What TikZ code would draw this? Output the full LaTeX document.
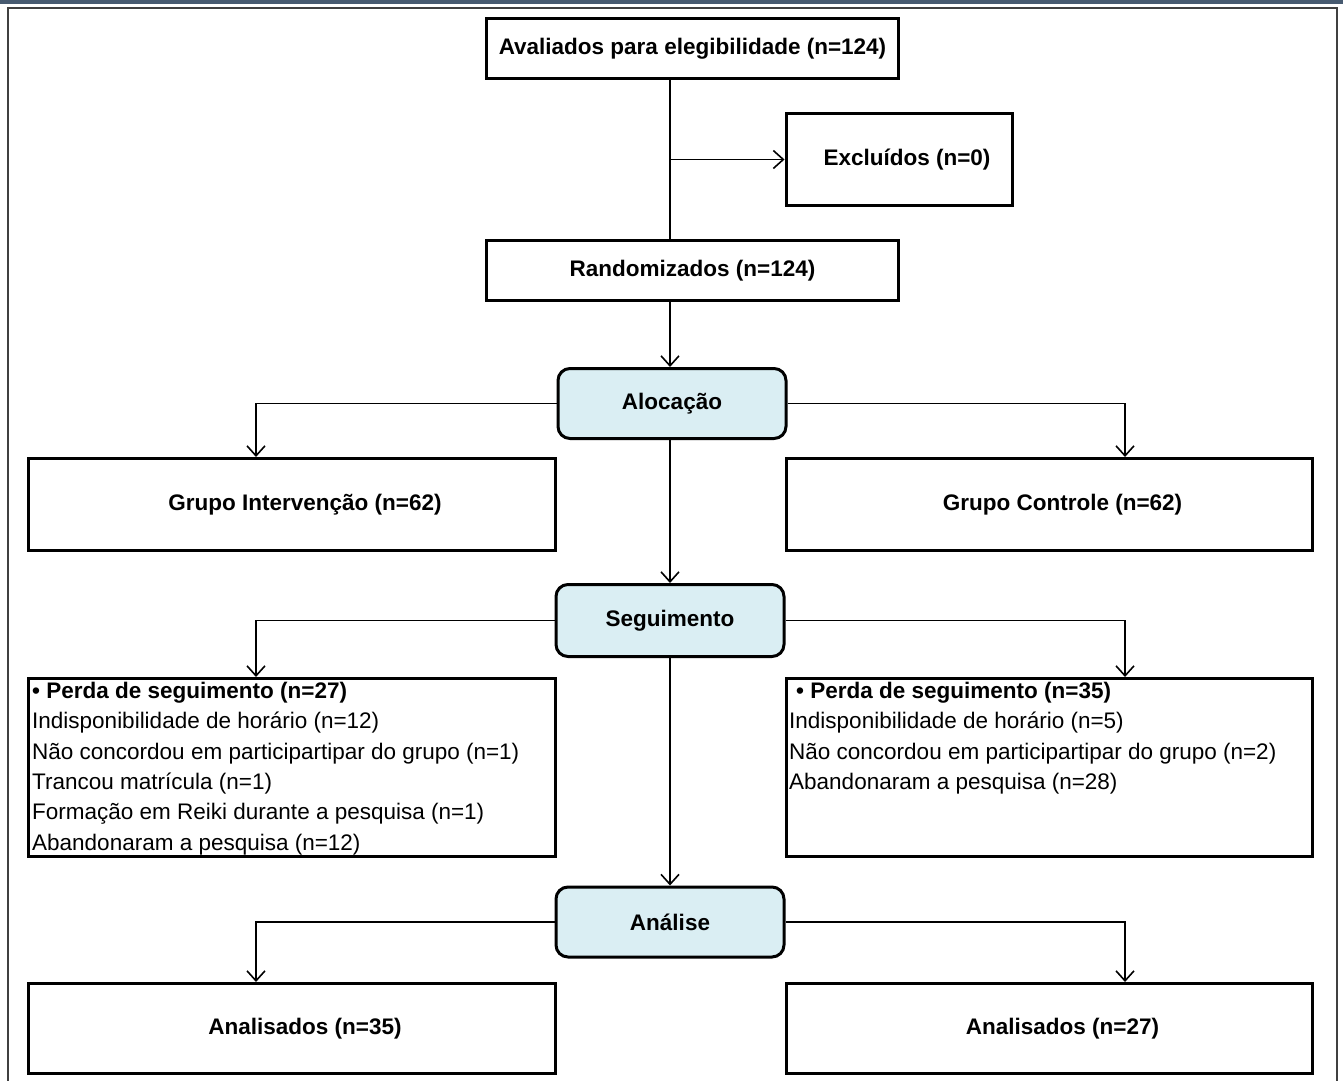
\documentclass[tikz,border=0pt]{standalone}
\usepackage{fontspec}
\setmainfont{Liberation Sans}
\usetikzlibrary{arrows.meta}
\definecolor{faseazul}{HTML}{DAEEF3}
\definecolor{faixatopo}{HTML}{475A70}
\begin{document}
\begin{tikzpicture}[x=1pt,y=-1pt,
	caixa/.style={draw,line width=3pt,inner sep=0pt,font=\fontsize{22.5}{26}\selectfont\bfseries},
	fase/.style={caixa,fill=faseazul,rounded corners=12pt},
	desloc/.style={execute at begin node={\hspace*{#1}}},
	perda/.style={inner sep=0pt,align=left,anchor=north west,font=\fontsize{22.5}{30.3}\selectfont},
	seta/.style={line width=1.6pt,-{Straight Barb[length=10pt,width=18pt]}},
	linha/.style={line width=1.6pt}]
		\clip (0,0) rectangle (1343,1080);
		\useasboundingbox (0,0) rectangle (1343,1080);
		\fill [faixatopo] (0,0) rectangle (1343,3.5);
		\draw [line width=2pt,black!75] (8,8) rectangle (1337,1095);
		\node [caixa,minimum width=412pt,minimum height=60pt] (aval) at (692.5,48.5) {Avaliados para elegibilidade (n=124)};
		\node [caixa,desloc=16pt,minimum width=226pt,minimum height=92pt] (excl) at (899,159.5) {Excluídos (n=0)};
		\node [caixa,minimum width=412pt,minimum height=60pt] (rand) at (692.5,270.5) {Randomizados (n=124)};
		\node [fase,minimum width=228pt,minimum height=70pt] (aloc) at (672,403.5) {Alocação};
		\node [caixa,desloc=26pt,minimum width=527pt,minimum height=92pt] (gint) at (292,504.5) {Grupo Intervenção (n=62)};
		\node [caixa,desloc=26pt,minimum width=526pt,minimum height=92pt] (gcon) at (1049.5,504.5) {Grupo Controle (n=62)};
		\node [fase,minimum width=228pt,minimum height=72pt] (segu) at (670,620.5) {Seguimento};
		\node [caixa,minimum width=527pt,minimum height=178pt] (perdaint) at (292,767.5) {};
		\node [caixa,minimum width=526pt,minimum height=178pt] (perdacon) at (1049.5,767.5) {};
		\node [perda] (txtint) at ([shift={(5,5)}]perdaint.north west) {\textbf{• Perda de seguimento (n=27)}\\
			Indisponibilidade de horário (n=12)\\
			Não concordou em participartipar do grupo (n=1)\\
			Trancou matrícula (n=1)\\
			Formação em Reiki durante a pesquisa (n=1)\\
			Abandonaram a pesquisa (n=12)};
		\node [perda] (txtcon) at ([shift={(4,5)}]perdacon.north west) {\textbf{\hspace*{7pt}• Perda de seguimento (n=35)}\\
			Indisponibilidade de horário (n=5)\\
			Não concordou em participartipar do grupo (n=2)\\
			Abandonaram a pesquisa (n=28)};
		\node [fase,minimum width=228pt,minimum height=70pt] (anal) at (670,922) {Análise};
		\node [caixa,desloc=26pt,minimum width=527pt,minimum height=90pt] (anint) at (292,1028.5) {Analisados (n=35)};
		\node [caixa,desloc=26pt,minimum width=526pt,minimum height=90pt] (ancon) at (1049.5,1028.5) {Analisados (n=27)};
		\coordinate (eixo) at (670,0);
		\coordinate (esq) at (256,0);
		\coordinate (dir) at (1125,0);
		\draw [linha] (eixo |- aval.south) -- (eixo |- rand.north);
		\draw [seta] (eixo |- excl.west) -- (excl.west);
		\draw [seta] (eixo |- rand.south) -- (eixo |- aloc.north);
		\draw [seta] (aloc.west) -| (esq |- gint.north);
		\draw [seta] (aloc.east) -| (dir |- gcon.north);
		\draw [seta] (eixo |- aloc.south) -- (eixo |- segu.north);
		\draw [seta] (segu.west) -| (esq |- perdaint.north);
		\draw [seta] (segu.east) -| (dir |- perdacon.north);
		\draw [seta] (eixo |- segu.south) -- (eixo |- anal.north);
		\draw [seta] (anal.west) -| (esq |- anint.north);
		\draw [seta] (anal.east) -| (dir |- ancon.north);
	\end{tikzpicture}
\end{document}
